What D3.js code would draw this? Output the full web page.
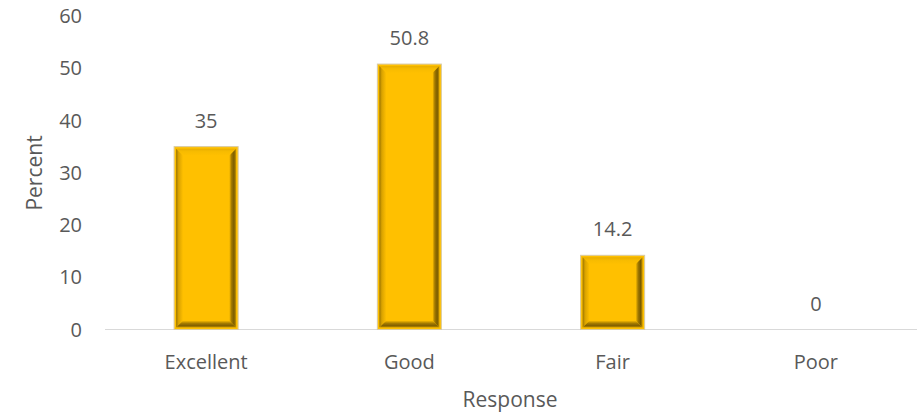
<!DOCTYPE html>
<html><head><meta charset="utf-8">
<script src="https://cdn.jsdelivr.net/npm/d3@7"></script>
<style>body{margin:0;background:#fff}svg{display:block}text{font-family:"Open Sans",sans-serif;fill:#595959}</style>
</head><body><svg id="c" width="921" height="419"></svg>
<script>
const categories = ["Excellent","Good","Fair","Poor"];
const values = [35, 50.8, 14.2, 0];
const valueLabels = ["35","50.8","14.2","0"];
const yTicks = [0,10,20,30,40,50,60];

const svg = d3.select("#c");
const x = d3.scaleBand().domain(categories).range([105,917]).paddingInner(0.685).paddingOuter(0.34);
const y = d3.scaleLinear().domain([0,60]).range([329.5,16]);

const defs = svg.append("defs");
function grad(id, x1,y1,x2,y2, stops){
  const g = defs.append("linearGradient").attr("id",id).attr("x1",x1).attr("y1",y1).attr("x2",x2).attr("y2",y2);
  stops.forEach(([o,c])=>g.append("stop").attr("offset",o).attr("stop-color",c));
}
grad("gTop",0,0,0,1,[[0,"#e8ae00"],[0.4,"#f7bb00"],[1,"#ffc000"]]);
grad("gLeft",0,0,1,0,[[0,"#9a7400"],[0.35,"#d9a200"],[1,"#ffc000"]]);
grad("gRight",0,0,1,0,[[0,"#ffc000"],[0.35,"#a07800"],[0.7,"#7a5c00"],[1,"#c89600"]]);
grad("gBot",0,0,0,1,[[0,"#ffc000"],[0.4,"#a67c00"],[0.75,"#805f00"],[1,"#c99700"]]);

// axis line
svg.append("line").attr("x1",105).attr("x2",917).attr("y1",y(0)).attr("y2",y(0))
  .attr("stroke","#d9d9d9").attr("stroke-width",1);

// y ticks
svg.append("g").selectAll("text").data(yTicks).join("text")
  .attr("x",82).attr("y",d=>y(d)).attr("dy","0.36em").attr("text-anchor","end")
  .style("font-size","20px").text(d=>d);

// bars
const bars = svg.append("g").selectAll("g").data(categories.map((c,i)=>({c,v:values[i],l:valueLabels[i]}))).join("g");
bars.each(function(d){
  if (d.v <= 0) return;
  const g = d3.select(this);
  const x0 = x(d.c), w = x.bandwidth(), y0 = y(d.v), h = y(0)-y(d.v);
  const o = 2, b = 9;
  g.append("rect").attr("x",x0).attr("y",y0).attr("width",w).attr("height",h)
    .attr("fill","#ffc000").attr("stroke","#d8cba6").attr("stroke-width",1);
  const X1=x0+o, X2=x0+w-o, Y1=y0+o, Y2=y0+h-o;
  const I1=x0+b, I2=x0+w-b, J1=y0+b, J2=y0+h-b;
  g.append("polygon").attr("points",`${X1},${Y1} ${X2},${Y1} ${I2},${J1} ${I1},${J1}`).attr("fill","url(#gTop)");
  g.append("polygon").attr("points",`${X1},${Y1} ${I1},${J1} ${I1},${J2} ${X1},${Y2}`).attr("fill","url(#gLeft)");
  g.append("polygon").attr("points",`${X2},${Y1} ${X2},${Y2} ${I2},${J2} ${I2},${J1}`).attr("fill","url(#gRight)");
  g.append("polygon").attr("points",`${X1},${Y2} ${I1},${J2} ${I2},${J2} ${X2},${Y2}`).attr("fill","url(#gBot)");
  g.append("rect").attr("x",I1).attr("y",J1).attr("width",I2-I1).attr("height",J2-J1).attr("fill","#ffc000");
});
// value labels
bars.append("text").attr("x",d=>x(d.c)+x.bandwidth()/2).attr("y",d=>y(d.v)-19)
  .attr("text-anchor","middle").style("font-size","20px").text(d=>d.l);

// x labels
svg.append("g").selectAll("text").data(categories).join("text")
  .attr("x",d=>x(d)+x.bandwidth()/2).attr("y",369).attr("text-anchor","middle")
  .style("font-size","20px").text(d=>d);

// axis titles
svg.append("text").attr("x",510).attr("y",407).attr("text-anchor","middle").style("font-size","21px").text("Response");
svg.append("text").attr("transform","translate(42,173) rotate(-90)").attr("text-anchor","middle").style("font-size","21px").text("Percent");
</script></body></html>
